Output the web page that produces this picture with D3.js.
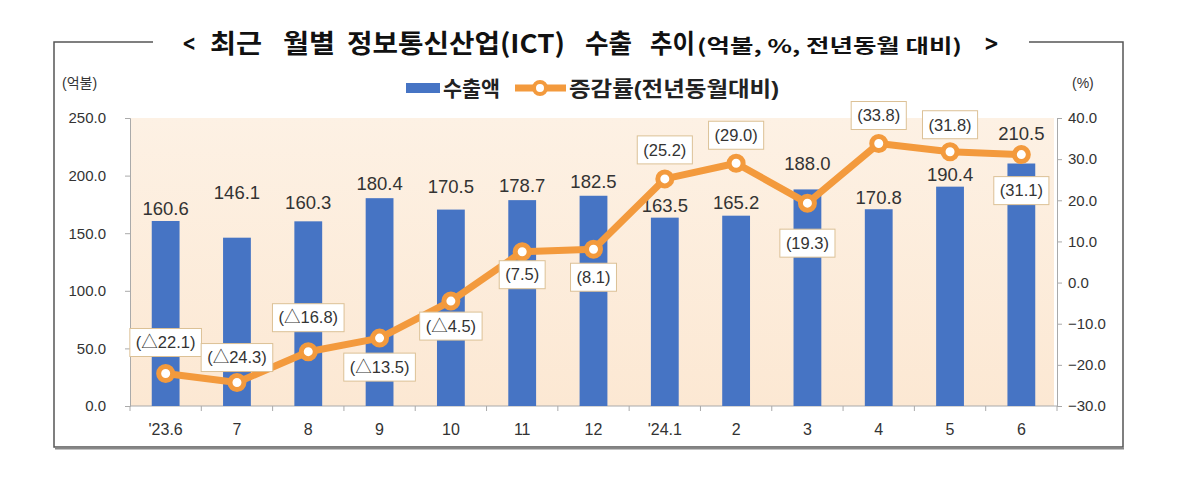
<!DOCTYPE html>
<html><head><meta charset="utf-8">
<script src="https://cdn.jsdelivr.net/npm/d3@7"></script>
<style>
html,body{margin:0;padding:0;background:#fff;}
svg text{font-family:"Liberation Sans Narrow","Liberation Sans","Noto Sans CJK KR",sans-serif;}
</style></head>
<body>
<svg id="c" width="1177" height="483"></svg>
<script>
const categories = ["'23.6","7","8","9","10","11","12","'24.1","2","3","4","5","6"];
const exportValues = [160.6,146.1,160.3,180.4,170.5,178.7,182.5,163.5,165.2,188.0,170.8,190.4,210.5];
const growthRates = [-22.1,-24.3,-16.8,-13.5,-4.5,7.5,8.1,25.2,29.0,19.3,33.8,31.8,31.1];
const leftTicks = [0,50,100,150,200,250];
const rightTicks = [-30,-20,-10,0,10,20,30,40];
const titleWords = ["<","최근","월별","정보통신산업(ICT)","수출","추이","(억불, %, 전년동월 대비)",">"];
// layout (styling only)
const titleWordX = [183,210,283,347,585,650,697,985];
const titleWordW = [12,52,52,218,47,45,265,13];
const titleWordSize = [25,26,26,26,26,26,19,25];
const barLabelDy = [-12,-45,-19,-15,-23,-15,-14,-12,-13,-26,-12,-12,-30];
const rateLabelDy = [-31,-25,-34,29,25,23,28,-29,-28,40,-28,-27,36];

const svg = d3.select("#c");
const pL = 130, pR = 1057, pT = 118, pB = 406;
const x = d3.scaleBand().domain(categories).range([pL,pR]);
const yL = d3.scaleLinear().domain([0,250]).range([pB,pT]);
const yR = d3.scaleLinear().domain([-30,40]).range([pB,pT]);
const blue = "#4674C4", orange = "#F39A3D";

// frame
svg.append("path").attr("d","M153,42 H54 V447 H1123 V42 H1029").attr("fill","none").attr("stroke","#555").attr("stroke-width",1.5);
svg.append("line").attr("x1",55).attr("x2",1124).attr("y1",448.5).attr("y2",448.5).attr("stroke","#888").attr("stroke-width",2);

// title
const tg = svg.append("g").style("font-family","'Noto Sans CJK KR',sans-serif").style("font-weight","bold");
tg.selectAll("text").data(titleWords).join("text")
  .attr("x",(d,i)=>titleWordX[i]).attr("y",53).attr("fill","#111")
  .attr("font-size",(d,i)=>titleWordSize[i])
  .attr("textLength",(d,i)=>titleWordW[i]).attr("lengthAdjust","spacingAndGlyphs")
  .style("font-family","'Noto Sans CJK KR',sans-serif")
  .text(d=>d);

// gradient bg
const defs = svg.append("defs");
const g = defs.append("linearGradient").attr("id","bg").attr("x1",0).attr("x2",0).attr("y1",0).attr("y2",1);
g.append("stop").attr("offset","0%").attr("stop-color","#fdf1e4");
g.append("stop").attr("offset","100%").attr("stop-color","#fce8d3");
svg.append("rect").attr("x",pL).attr("y",pT).attr("width",pR-pL-3).attr("height",pB-pT).attr("fill","url(#bg)");

// axes
const axL = svg.append("g").attr("transform",`translate(${pL},0)`)
  .call(d3.axisLeft(yL).tickValues(leftTicks).tickSize(5).tickFormat(d3.format(".1f")));
const axR = svg.append("g").attr("transform",`translate(${pR},0)`)
  .call(d3.axisRight(yR).tickValues(rightTicks).tickSize(5).tickFormat(d3.format(".1f")));
[axL,axR].forEach(a=>{
  a.select(".domain").attr("stroke","#aaa");
  a.selectAll(".tick line").attr("stroke","#aaa");
  a.selectAll("text").attr("font-size",15).attr("fill","#333");
});
axL.selectAll("text").attr("x",-24);
axR.selectAll("text").attr("x",11);

// x axis
const xa = svg.append("g").attr("transform",`translate(0,${pB})`);
xa.append("line").attr("x1",pL).attr("x2",pR).attr("stroke","#aaa");
const bounds = categories.map(c=>x(c)).concat([pR]);
xa.selectAll("line.tk").data(bounds).join("line").attr("class","tk")
  .attr("x1",d=>d).attr("x2",d=>d).attr("y1",0).attr("y2",5).attr("stroke","#aaa");
xa.selectAll("text").data(categories).join("text")
  .attr("x",c=>x(c)+x.bandwidth()/2).attr("y",29).attr("text-anchor","middle")
  .attr("font-size",16).attr("fill","#333").text(c=>c);

// bars
const bw = x.bandwidth()*0.39;
svg.selectAll("rect.bar").data(exportValues).join("rect").attr("class","bar")
  .attr("x",(d,i)=>x(categories[i])+x.bandwidth()/2-bw/2).attr("width",bw)
  .attr("y",d=>yL(d)).attr("height",d=>pB-yL(d)).attr("fill",blue);
svg.selectAll("text.bl").data(exportValues).join("text").attr("class","bl")
  .attr("x",(d,i)=>x(categories[i])+x.bandwidth()/2).attr("y",(d,i)=>yL(d)+barLabelDy[i])
  .attr("dy","0.35em").attr("text-anchor","middle").attr("font-size",18.5).attr("fill","#333")
  .text(d=>d.toFixed(1));

// line
const cx = i=>x(categories[i])+x.bandwidth()/2;
svg.append("path").datum(growthRates)
  .attr("d",d3.line().x((d,i)=>cx(i)).y(d=>yR(d)))
  .attr("fill","none").attr("stroke",orange).attr("stroke-width",7).attr("stroke-linejoin","round");
svg.selectAll("circle.m").data(growthRates).join("circle").attr("class","m")
  .attr("cx",(d,i)=>cx(i)).attr("cy",d=>yR(d)).attr("r",7)
  .attr("fill","#fff").attr("stroke",orange).attr("stroke-width",5);

// rate labels
const fmt = d => d<0 ? "(△"+(-d).toFixed(1)+")" : "("+d.toFixed(1)+")";
const lg = svg.selectAll("g.rl").data(growthRates).join("g").attr("class","rl")
  .attr("transform",(d,i)=>`translate(${cx(i)},${yR(d)+rateLabelDy[i]})`);
lg.append("text").attr("text-anchor","middle").attr("dy","0.35em").attr("font-size",16.5).attr("fill","#333").text(fmt);
lg.each(function(){
  const gg = d3.select(this);
  const bb = gg.select("text").node().getBBox();
  gg.insert("rect","text").attr("x",bb.x-6).attr("y",-14).attr("width",bb.width+12).attr("height",28)
    .attr("fill","#fff").attr("stroke","#dcc196").attr("stroke-width",1);
});

// legend
svg.append("rect").attr("x",406).attr("y",83).attr("width",34).attr("height",10).attr("fill",blue);
svg.append("text").attr("x",443).attr("y",96).attr("font-size",21).attr("font-weight","bold").attr("fill","#222")
  .attr("textLength",57).attr("lengthAdjust","spacingAndGlyphs").text("수출액");
svg.append("line").attr("x1",515).attr("x2",566).attr("y1",88).attr("y2",88).attr("stroke",orange).attr("stroke-width",7);
svg.append("circle").attr("cx",540).attr("cy",88).attr("r",6).attr("fill","#fff").attr("stroke",orange).attr("stroke-width",4);
svg.append("text").attr("x",569).attr("y",96).attr("font-size",21).attr("font-weight","bold").attr("fill","#222")
  .attr("textLength",210).attr("lengthAdjust","spacingAndGlyphs").text("증감률(전년동월대비)");

// unit labels
svg.append("text").attr("x",62).attr("y",88).attr("font-size",14).attr("fill","#333").text("(억불)");
svg.append("text").attr("x",1072).attr("y",88).attr("font-size",14).attr("fill","#333").text("(%)");
</script>
</body></html>
